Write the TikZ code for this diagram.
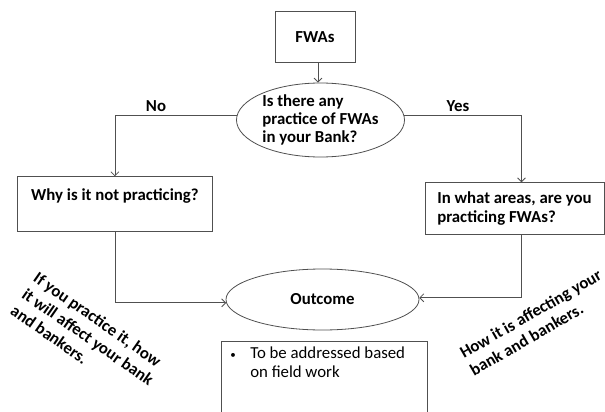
\documentclass[tikz,border=0pt]{standalone}
\usepackage{fontspec}
\setmainfont{Carlito}
\usetikzlibrary{shapes.geometric,arrows.meta}
\definecolor{linec}{HTML}{505050}
\begin{document}
\begin{tikzpicture}[x=1pt,y=-1pt,
  every node/.style={font=\fontsize{16.8}{18.4}\selectfont\bfseries, text=black},
  box/.style={draw=linec, line width=0.8pt, rectangle, inner sep=0pt},
  ell/.style={draw=linec, line width=0.8pt, ellipse, inner sep=0pt},
  conn/.style={draw=linec, line width=0.8pt, -{Straight Barb[length=4pt,width=8pt]}},
  lbl/.style={inner sep=0pt},
  slant/.style={font=\fontsize{16.8}{20}\selectfont\bfseries, align=left, inner sep=0pt}]
\useasboundingbox (0,0) rectangle (605,412);
\clip (0,0) rectangle (605,412);
\node[box, minimum width=80pt, minimum height=51pt] (fwa) at (315,37.2) {FWAs};
\node[ell, minimum width=168pt, minimum height=74pt, align=left] (q) at (320.5,120) {Is there any\\practice of FWAs\\in your Bank?};
\node[box, minimum width=194.2pt, minimum height=54.6pt, align=center] (lb) at (114.9,204) {Why is it not practicing?\\\mbox{}};
\node[box, minimum width=179pt, minimum height=51.3pt, align=left] (rb) at (514.5,208.4) {In what areas, are you\\practicing FWAs?};
\node[ell, minimum width=193pt, minimum height=61pt] (out) at (322.5,299.5) {Outcome};
\node[box, anchor=north, minimum width=205.4pt, minimum height=100pt, inner xsep=8.4pt, inner ysep=4pt, font=\fontsize{16.8}{18.7}\selectfont, align=left] (res) at (324.3,340.7)
  {\begin{minipage}[t][88pt][t]{188pt}\makebox[20pt][l]{\fontsize{11}{11}\selectfont\textbullet}To be addressed based\\\hspace*{20pt}on field work\end{minipage}};
\node[lbl] (no) at (156,106) {No};
\node[lbl] (yes) at (458,106) {Yes};
\node[slant, rotate=-35] (lt) at (88,337) {If you practice it, how\\it will affect your bank\\and bankers.};
\node[slant, rotate=30] (rt) at (535.5,322.5) {How it is affecting your\\bank and bankers.};
\draw[conn] ([xshift=3pt]fwa.south) -- ([xshift=3pt]fwa.south |- q.north);
\draw[conn] (q.177) -| (lb.north);
\draw[conn] (q.3) -| ([xshift=7pt]rb.north);
\draw[conn] (lb.south) |- (out.182.5);
\draw[conn] ([xshift=7pt]rb.south) |- (out.1.7);
\end{tikzpicture}
\end{document}
